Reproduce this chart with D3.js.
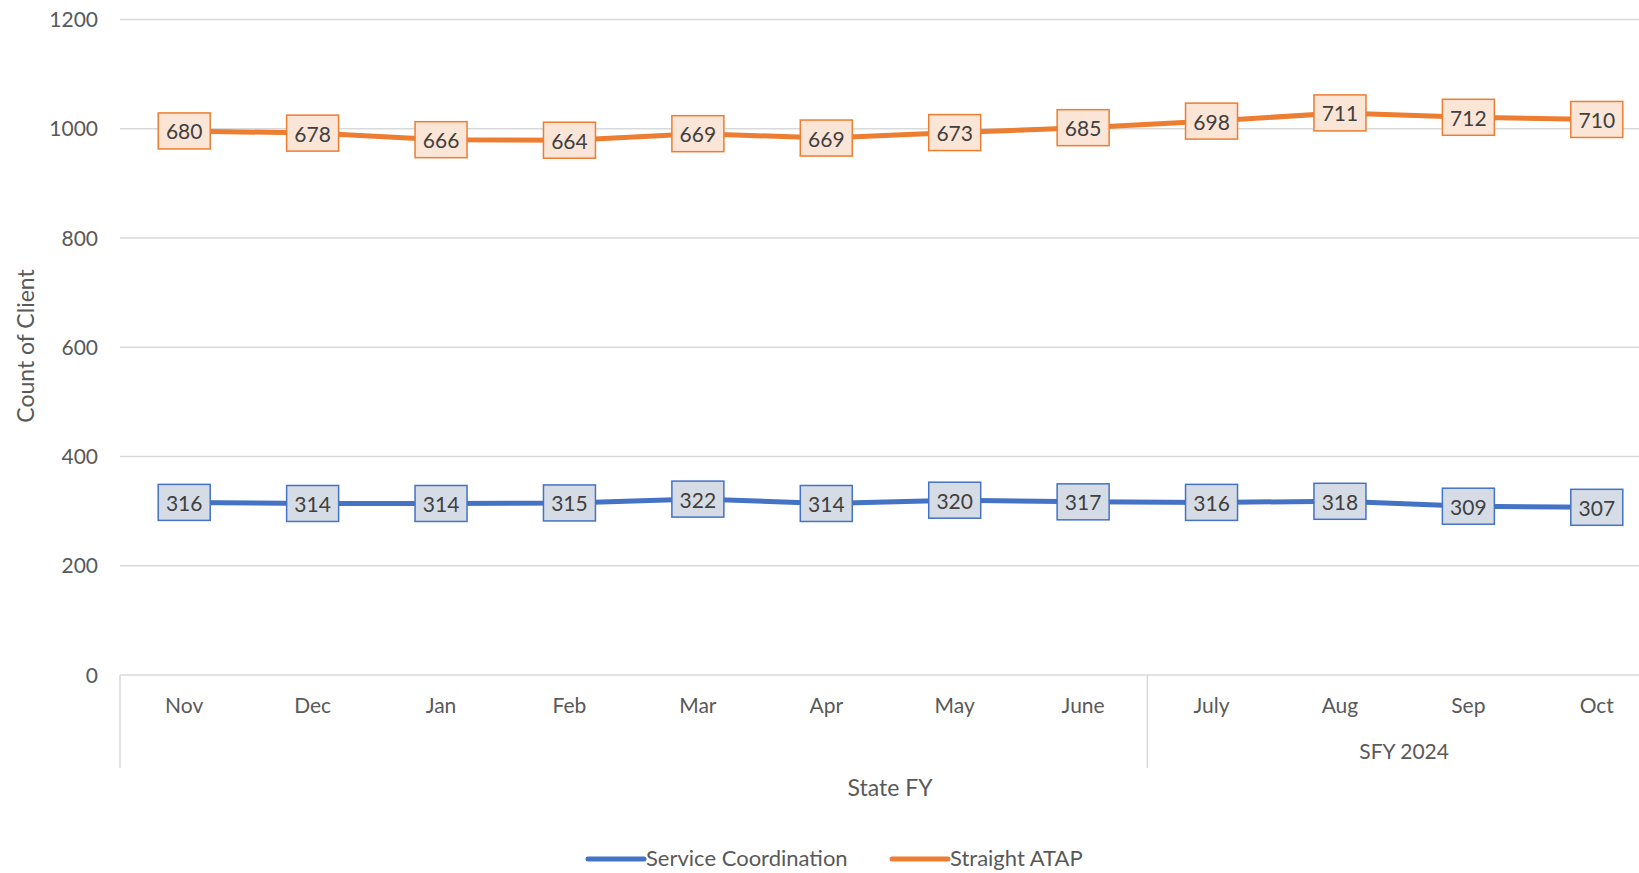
<!DOCTYPE html>
<html>
<head>
<meta charset="utf-8">
<script src="https://cdn.jsdelivr.net/npm/d3@7"></script>
<style>
  body { margin: 0; background: #fff; }
  text { font-family: Lato, "Liberation Sans", sans-serif; fill: #595959; }
</style>
</head>
<body>
<svg width="1639" height="873"></svg>
<script>
var months = ["Nov","Dec","Jan","Feb","Mar","Apr","May","June","July","Aug","Sep","Oct"]
var groups = [{label: "", from: 0, to: 8}, {label: "SFY 2024", from: 8, to: 12}]
var serviceCoord = [316,314,314,315,322,314,320,317,316,318,309,307]
var straightAtap = [680,678,666,664,669,669,673,685,698,711,712,710]
var yTicks = [0,200,400,600,800,1000,1200]

var seriesNames = ["Service Coordination","Straight ATAP"]
var colors = ["#4472C4","#ED7D31"],
    boxFill = ["#D6DCE5","#FBE5D6"]

var svg = d3.select("svg"),
    width = +svg.attr("width"),
    height = +svg.attr("height")

// plot area is wider than the picture: the right end is cut off
var x = d3.scaleBand().domain(months).range([120, 1661]).paddingInner(0).paddingOuter(0)
var y = d3.scaleLinear().domain([0,1200]).range([675, 19.5])

// rows for stacking
var rows = months.map(function(m, i) {
  return {month: m, sc: serviceCoord[i], atap: straightAtap[i]}
})
var stacked = d3.stack().keys(["sc","atap"])(rows)

// gridlines
svg.append("g").selectAll("line").data(yTicks).enter().append("line")
  .attr("x1", 120).attr("x2", width)
  .attr("y1", function(d){ return y(d) }).attr("y2", function(d){ return y(d) })
  .attr("stroke", "#d9d9d9").attr("stroke-width", 1.5)

// y tick labels
svg.append("g").selectAll("text").data(yTicks).enter().append("text")
  .attr("x", 98).attr("y", function(d){ return y(d) })
  .attr("dy", "0.36em").attr("text-anchor", "end")
  .style("font-size", "21px")
  .text(function(d){ return d })

// category labels
svg.append("g").selectAll("text").data(months).enter().append("text")
  .attr("x", function(d){ return x(d) + x.bandwidth()/2 })
  .attr("y", 705).attr("dy", "0.36em").attr("text-anchor", "middle")
  .style("font-size", "21px")
  .text(function(d){ return d })

// group separators and labels
var sepX = [120].concat(groups.map(function(g){ return x.range()[0] + g.to * x.bandwidth() }))
svg.append("g").selectAll("line").data(sepX).enter().append("line")
  .attr("x1", function(d){ return d }).attr("x2", function(d){ return d })
  .attr("y1", 675).attr("y2", 768)
  .attr("stroke", "#d9d9d9").attr("stroke-width", 1.5)

svg.append("g").selectAll("text").data(groups).enter().append("text")
  .attr("x", function(g){ return x.range()[0] + (g.from + g.to)/2 * x.bandwidth() })
  .attr("y", 751).attr("dy", "0.36em").attr("text-anchor", "middle")
  .style("font-size", "21px")
  .text(function(g){ return g.label })

// axis titles
svg.append("text")
  .attr("x", 890).attr("y", 788).attr("dy", "0.36em").attr("text-anchor", "middle")
  .style("font-size", "23px")
  .text("State FY")

svg.append("text")
  .attr("transform", "translate(26,346) rotate(-90)")
  .attr("dy", "0.36em").attr("text-anchor", "middle")
  .style("font-size", "23px")
  .text("Count of Client")

// lines
var line = d3.line()
  .x(function(d){ return x(d.data.month) + x.bandwidth()/2 })
  .y(function(d){ return y(d[1]) })

svg.append("g").selectAll("path").data(stacked).enter().append("path")
  .attr("d", line)
  .attr("fill", "none")
  .attr("stroke", function(d, i){ return colors[i] })
  .attr("stroke-width", 5)
  .attr("stroke-linejoin", "round")
  .attr("stroke-linecap", "round")

// data labels
var bw = 52, bh = 36
stacked.forEach(function(s, si) {
  var lg = svg.append("g").selectAll("g").data(s).enter().append("g")
    .attr("transform", function(d){
      return "translate(" + (x(d.data.month) + x.bandwidth()/2) + "," + y(d[1]) + ")"
    })
  lg.append("rect")
    .attr("x", -bw/2).attr("y", -bh/2).attr("width", bw).attr("height", bh)
    .attr("fill", boxFill[si]).attr("stroke", colors[si]).attr("stroke-width", 1.5)
  lg.append("text")
    .attr("y", 1).attr("dy", "0.36em").attr("text-anchor", "middle")
    .style("font-size", "21px").style("fill", "#404040")
    .text(function(d){ return d[1] - d[0] })
})

// legend
var legX = [588, 892]
var leg = svg.append("g").selectAll("g").data(seriesNames).enter().append("g")
  .attr("transform", function(d, i){ return "translate(" + legX[i] + ",859)" })
leg.append("line")
  .attr("x1", 0).attr("x2", 56).attr("y1", 0).attr("y2", 0)
  .attr("stroke", function(d, i){ return colors[i] })
  .attr("stroke-width", 5).attr("stroke-linecap", "round")
leg.append("text")
  .attr("x", 58).attr("dy", "0.34em")
  .style("font-size", "22px")
  .text(function(d){ return d })
</script>
</body>
</html>
